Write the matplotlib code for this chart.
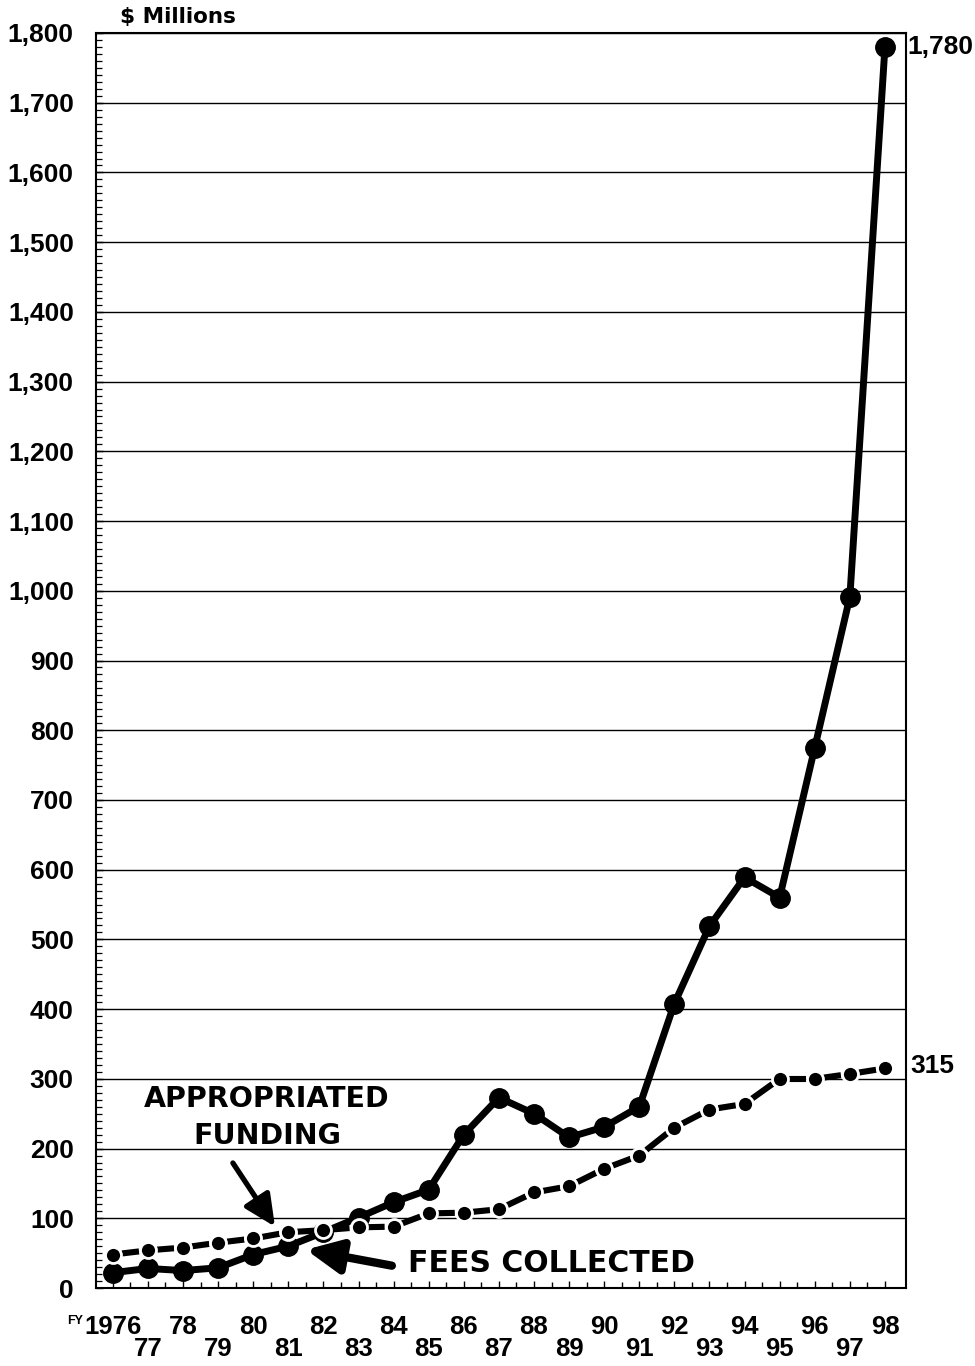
import matplotlib
matplotlib.use("Agg")
import matplotlib.pyplot as plt
import numpy as np
from matplotlib.patches import FancyArrowPatch
from matplotlib.ticker import MultipleLocator

# ---------------- data ----------------
years = list(range(1976, 1999))
fees_collected = [22, 28, 25, 29, 48, 60, 80, 101, 123, 141, 220, 273, 250,
                  216, 231, 260, 408, 519, 589, 560, 775, 991, 1780]
appropriated_funding = [48, 54, 58, 65, 71, 80, 83, 87, 88, 107, 108, 113, 137,
                        146, 171, 190, 230, 256, 264, 300, 300, 307, 315]
y_ticks = list(range(0, 1900, 100))
y_tick_labels = [f"{v:,}" for v in y_ticks]
x_tick_labels = ["1976"] + [f"{y % 100:02d}" for y in years[1:]]
end_labels = ["1,780", "315"]

plt.rcParams['font.family'] = ['Liberation Sans', 'DejaVu Sans']

W, H = 975, 1366
fig = plt.figure(figsize=(W / 100, H / 100), dpi=100)
ax = fig.add_axes([96 / W, 78 / H, 810 / W, 1255 / H])
ax.set_xlim(1975.52, 1998.6)
ax.set_ylim(0, 1800)

# grid / ticks
ax.set_yticks(y_ticks)
ax.set_yticklabels(y_tick_labels, fontweight='bold', fontsize=19)
ax.yaxis.set_minor_locator(MultipleLocator(10))
ax.yaxis.grid(True, which='major', color='black', lw=1.0)
ax.set_axisbelow(True)
ax.tick_params(axis='y', which='major', direction='in', length=5, width=1, pad=16)
ax.tick_params(axis='y', which='minor', direction='in', length=4, width=0.9)

ax.set_xticks(years)
ax.set_xticklabels([])
ax.set_xticks([y + 0.5 for y in years[:-1]], minor=True)
ax.tick_params(axis='x', which='major', direction='in', length=5, width=1)
ax.tick_params(axis='x', which='minor', direction='in', length=4, width=1)
for s in ax.spines.values():
    s.set_linewidth(1.5)

# staggered year labels
xt = ax.get_xaxis_transform()
for i, (yr, lab) in enumerate(zip(years, x_tick_labels)):
    yy = -0.0311 if i % 2 == 0 else -0.0486
    ax.text(yr, yy, lab, transform=xt, ha='center', va='center',
            fontsize=18.5, fontweight='bold')
ax.text(1974.92, -0.0263, "FY", transform=xt, ha='center', va='center',
        fontsize=9, fontweight='bold')

fig.text(178 / W, 1 - 17 / H, "$ Millions", ha='center', va='center',
         family='DejaVu Sans', fontweight='bold', fontsize=15.5)

# fees collected (solid)
ax.plot(years, fees_collected, color='black', lw=5.0, marker='o', ms=14,
        solid_joinstyle='round', zorder=3)

# appropriated funding (dash between each pair of markers)
pts = ax.transData.transform(np.column_stack([years, appropriated_funding]))
for i in range(len(years) - 1):
    L = np.hypot(*(pts[i + 1] - pts[i]))
    t = 9.0 / L
    x0, x1 = years[i], years[i + 1]
    y0, y1 = appropriated_funding[i], appropriated_funding[i + 1]
    ax.plot([x0 + t * (x1 - x0), x1 - t * (x1 - x0)],
            [y0 + t * (y1 - y0), y1 - t * (y1 - y0)],
            color='black', lw=4.4, solid_capstyle='butt', zorder=4)
ax.plot(years, appropriated_funding, ls='none', marker='o', ms=11.5,
        mfc='black', mec='white', mew=2.0, zorder=5)

# end value labels
ax.annotate(end_labels[0], xy=(years[-1], fees_collected[-1]), xytext=(16.0, 0),
            textcoords='offset points', ha='left', va='center',
            fontsize=19, fontweight='bold', annotation_clip=False)
ax.annotate(end_labels[1], xy=(years[-1], appropriated_funding[-1]), xytext=(18.0, 1.5),
            textcoords='offset points', ha='left', va='center',
            fontsize=19, fontweight='bold', annotation_clip=False)

# annotations
ax.text(1980.39, 260, "APPROPRIATED", ha='center', va='baseline',
        family='DejaVu Sans', fontweight='bold', fontsize=20.5, zorder=6)
ax.text(1980.39, 206, "FUNDING", ha='center', va='baseline',
        family='DejaVu Sans', fontweight='bold', fontsize=20.5, zorder=6)
ax.text(1988.5, 23, "FEES COLLECTED", ha='center', va='baseline',
        family='DejaVu Sans', fontweight='bold', fontsize=21.5, zorder=6)

a1 = FancyArrowPatch(posA=(1979.42, 179.3), posB=(1980.62, 88),
                     arrowstyle='-|>,head_length=19,head_width=9',
                     mutation_scale=1, lw=3.8, color='black',
                     shrinkA=0, shrinkB=0, zorder=6)
ax.add_patch(a1)
a2 = FancyArrowPatch(posA=(1983.95, 32.0), posB=(1981.5, 55.0),
                     arrowstyle='-|>,head_length=21,head_width=10',
                     mutation_scale=1, lw=6.0, color='black',
                     shrinkA=0, shrinkB=0, zorder=6)
ax.add_patch(a2)

fig.savefig("out.png", dpi=100)
